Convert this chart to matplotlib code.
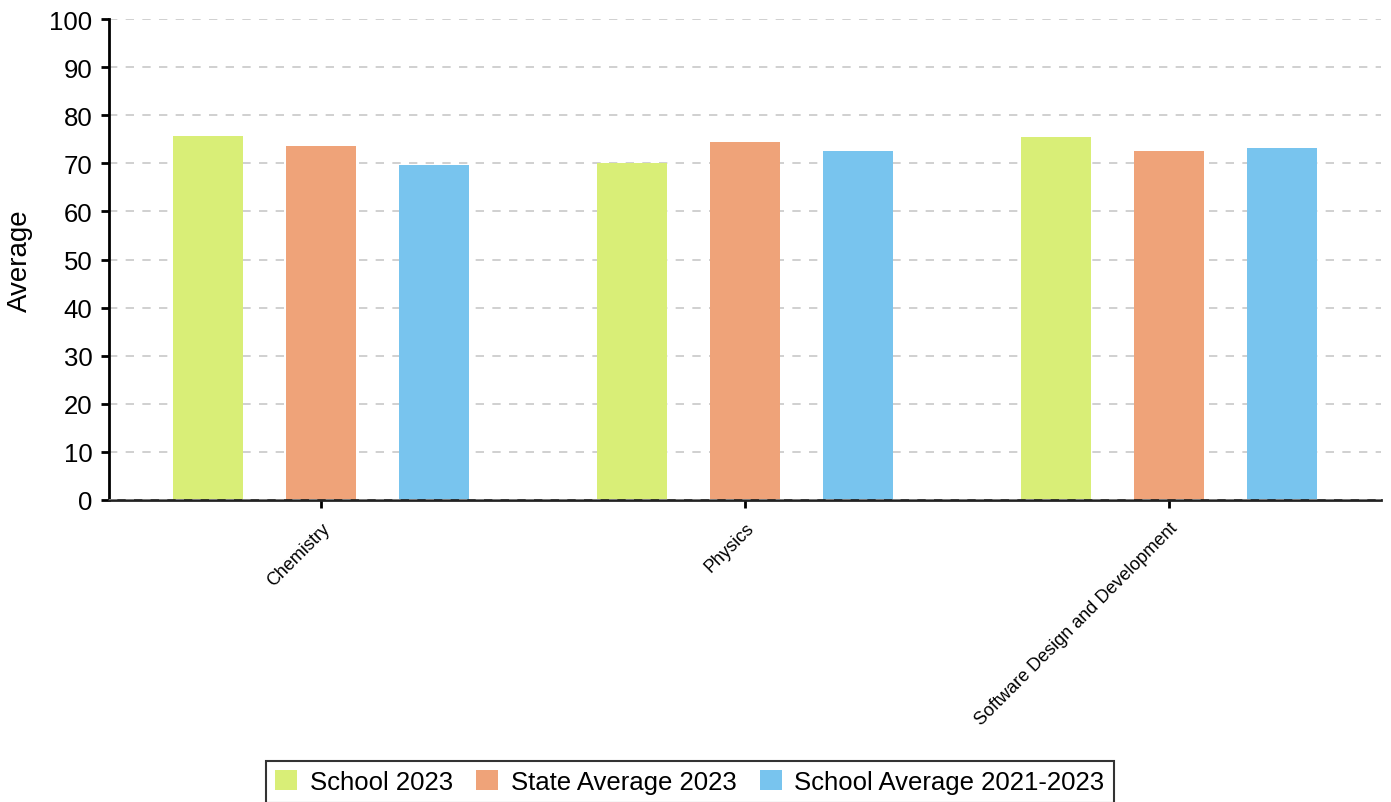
import numpy as np
import matplotlib
matplotlib.use("Agg")
import matplotlib.pyplot as plt

plt.rcParams['font.family'] = ['Liberation Sans', 'DejaVu Sans']

subjects = ["Chemistry", "Physics", "Software Design and Development"]
series_names = ["School 2023", "State Average 2023", "School Average 2021-2023"]
school_2023 = [75.7, 70.1, 75.5]
state_avg_2023 = [73.6, 74.4, 72.6]
school_avg_2021_2023 = [69.6, 72.6, 73.2]
colors = ["#d9ee77", "#efa379", "#78c4ee"]

fig = plt.figure(figsize=(13.91, 8.03), dpi=100)
ax = fig.add_axes([109 / 1391, 1 - 501 / 803, 1272 / 1391, 481 / 803])

x = np.arange(len(subjects))
width = 0.166
offset = 0.267
for i, (vals, name) in enumerate(zip([school_2023, state_avg_2023, school_avg_2021_2023], series_names)):
    ax.bar(x + (i - 1) * offset, vals, width, color=colors[i], label=name, zorder=2)

ax.set_xlim(-0.5, 2.5)
ax.set_ylim(0, 100)
ax.set_yticks(range(0, 101, 10))
ax.yaxis.grid(True, linestyle=(0, (5, 5)), color="#c8c8c8", linewidth=1.2, zorder=1)
ax.set_axisbelow(True)

for s in ["top", "right"]:
    ax.spines[s].set_visible(False)
ax.spines["left"].set_linewidth(2)
ax.spines["bottom"].set_linewidth(2)
ax.spines["bottom"].set_color("#222222")
ax.axhline(0, color="#888888", linestyle=(0, (5, 5)), linewidth=1.2, zorder=3)

ax.tick_params(axis="y", labelsize=18.5, width=2, length=6, direction="out", pad=6)
ax.tick_params(axis="x", labelsize=13, width=2, length=6, direction="out", pad=8)
ax.set_xticks(x)
ax.set_xticklabels(subjects, rotation=45, ha="right", rotation_mode="anchor")
ax.set_ylabel("Average", fontsize=20, labelpad=12)

leg = fig.legend(loc="upper center", bbox_to_anchor=(0.496, 1 - 749 / 803), ncol=3,
                 fontsize=18.5, frameon=True, fancybox=False, edgecolor="black",
                 handlelength=0.85, handleheight=0.85, handletextpad=0.5,
                 columnspacing=0.9, borderpad=0.35)
leg.get_frame().set_linewidth(1.5)

fig.savefig("out.png", dpi=100)
